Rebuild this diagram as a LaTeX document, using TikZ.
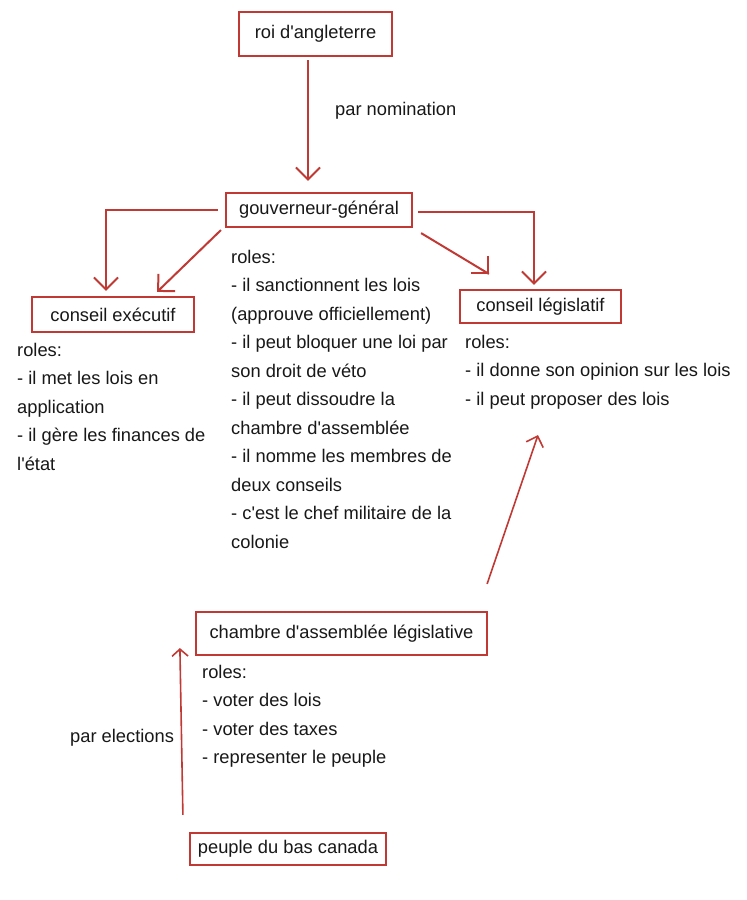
\documentclass[tikz,border=0pt]{standalone}
\usepackage{fontspec}
\setmainfont{Liberation Sans}
\usetikzlibrary{arrows.meta}
\definecolor{boxred}{RGB}{192,57,52}
\definecolor{txt}{RGB}{24,24,24}
\newcommand{\myq}{\textquotesingle}
\begin{document}
\begin{tikzpicture}[x=1pt,y=-1pt,
  every node/.style={font=\fontsize{18.3}{28.5}\selectfont, text=txt},
  box/.style={draw=boxred, line width=2.2pt, inner sep=0pt, anchor=center},
  txtblock/.style={anchor=north west, align=left, inner sep=0pt},
  lbl/.style={anchor=base west, inner sep=0pt},
  conn/.style={draw=boxred, line width=2pt, -{Straight Barb[length=12pt,width=24pt]}},
  plain/.style={draw=boxred, line width=2pt},
  thinconn/.style={draw=boxred, line width=1.6pt, -{Straight Barb[length=9pt,width=18pt]}}]
\fill[white] (0,0) rectangle (747,900);
\useasboundingbox (0,0) rectangle (747,900);

\node[box, minimum width=153pt, minimum height=44pt] (roi) at (315.5,34) {roi d\myq angleterre};
\node[box, minimum width=186pt, minimum height=34pt] (gouv) at (319,210) {gouverneur-général};
\node[box, minimum width=162pt, minimum height=35pt] (exec) at (113,314.5) {conseil exécutif};
\node[box, minimum width=161pt, minimum height=33pt] (legis) at (540.5,306.5) {conseil législatif};
\node[box, minimum width=291pt, minimum height=43pt] (chambre) at (341.5,633.5) {chambre d\myq assemblée législative};
\node[box, minimum width=196pt, minimum height=32pt] (peuple) at (288,849) {peuple du bas canada};

\node[lbl] (nom) at (335,115) {par nomination};
\node[lbl] (elec) at (70,742) {par elections};

\node[txtblock] (rgouv) at (231,250) {roles:\\- il sanctionnent les lois\\(approuve officiellement)\\- il peut bloquer une loi par\\son droit de véto\\- il peut dissoudre la\\chambre d\myq assemblée\\- il nomme les membres de\\deux conseils\\- c\myq est le chef militaire de la\\colonie};
\node[txtblock] (rexec) at (17,343) {roles:\\- il met les lois en\\application\\- il gère les finances de\\l\myq état};
\node[txtblock] (rlegis) at (465,335) {roles:\\- il donne son opinion sur les lois\\- il peut proposer des lois};
\node[txtblock] (rchambre) at (202,665) {roles:\\- voter des lois\\- voter des taxes\\- representer le peuple};

\draw[conn] ([xshift=-7.5pt,yshift=-3pt]roi.south) -- ([xshift=-11pt,yshift=11pt]gouv.north);
\draw[conn] ([xshift=-7pt]gouv.west) -| ([xshift=-7pt,yshift=5pt]exec.north);
\draw[conn] ([xshift=-4pt,yshift=-2pt]gouv.south west) -- ([xshift=-38pt,yshift=4pt]exec.north east);
\draw[plain] ([xshift=8pt,yshift=-5pt]gouv.south east) -- ([xshift=30pt,yshift=15pt]legis.north west);
\draw[conn] ([xshift=29pt,yshift=16pt]legis.north west) -- ([xshift=30pt,yshift=15pt]legis.north west);
\draw[conn] ([xshift=5pt,yshift=-2pt]gouv.east) -| ([xshift=-6.5pt,yshift=4pt]legis.north);
\draw[thinconn] ([xshift=-1pt,yshift=27pt]chambre.north east) -- ([xshift=-2.5pt,yshift=-111pt]legis.south);
\draw[thinconn, -{Straight Barb[length=7pt,width=16pt]}] ([xshift=-6pt,yshift=17pt]peuple.north west) -- ([xshift=-15pt,yshift=8pt]chambre.south west);
\end{tikzpicture}
\end{document}
